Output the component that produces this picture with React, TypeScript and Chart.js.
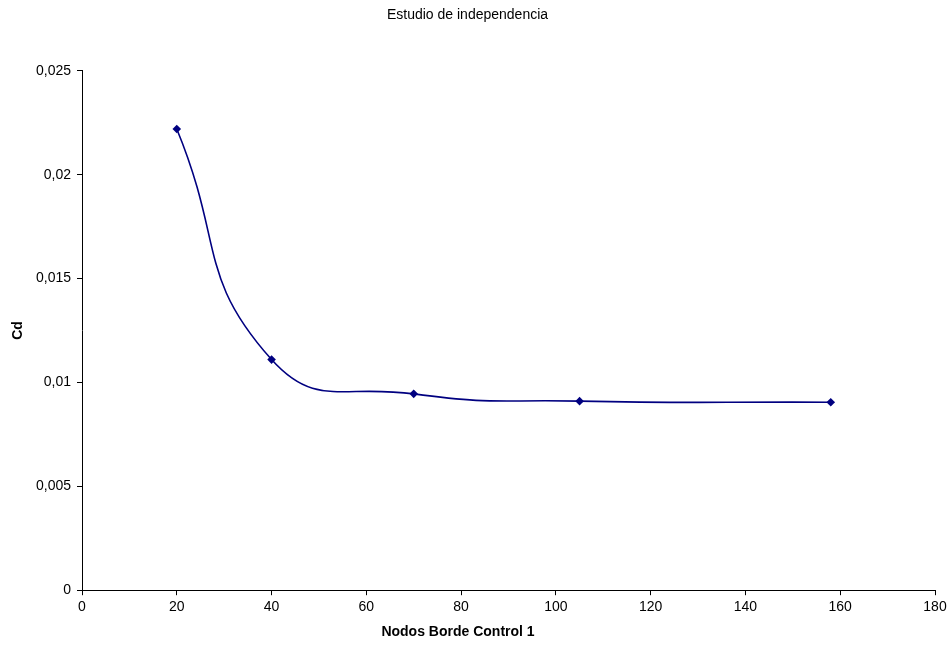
import React, { useEffect, useRef } from "react";
import { Chart, registerables } from "chart.js";

Chart.register(...registerables);

const nodos = [20, 40, 70, 105, 158];
const cd = [0.0222, 0.0111, 0.00945, 0.0091, 0.00905];
const chartTitle = "Estudio de independencia";
const xTitle = "Nodos Borde Control 1";
const yTitle = "Cd";

const FONT = "'Liberation Sans', Arial, sans-serif";

const xTitlePlugin = {
  id: "xTitleOffset",
  afterDraw(chart: any) {
    const c = chart.ctx;
    c.save();
    c.font = `bold 14px ${FONT}`;
    c.fillStyle = "#000";
    c.textAlign = "center";
    c.textBaseline = "middle";
    c.fillText(xTitle, chart.width / 2 - 18, chart.height - 14);
    c.restore();
  },
};

export default function App() {
  const ref = useRef<HTMLCanvasElement>(null);
  useEffect(() => {
    document.body.style.margin = "0";
    const ctx = ref.current!.getContext("2d")!;
    const chart = new Chart(ctx, {
      type: "line",
      data: {
        datasets: [
          {
            data: nodos.map((x, i) => ({ x, y: cd[i] })),
            borderColor: "#000080",
            backgroundColor: "#000080",
            borderWidth: 1.6,
            pointStyle: "rectRot",
            pointRadius: 4.3,
            pointBorderWidth: 0,
            tension: 0.5,
            fill: false,
          },
        ],
      },
      plugins: [xTitlePlugin],
      options: {
        animation: false,
        responsive: false,
        maintainAspectRatio: false,
        layout: { padding: { top: 0, right: 17, bottom: 26, left: 0 } },
        plugins: {
          legend: { display: false },
          tooltip: { enabled: false },
          title: {
            display: true,
            text: chartTitle,
            color: "#000",
            font: { family: FONT, size: 14, weight: "normal" },
            padding: { top: 7, bottom: 47 },
          },
        },
        scales: {
          x: {
            type: "linear",
            min: 0,
            max: 180,
            ticks: { stepSize: 20, color: "#000", font: { family: FONT, size: 14 }, padding: 4, maxRotation: 0 },
            grid: { display: true, drawOnChartArea: false, drawTicks: true, tickLength: 5, color: "#000" },
            border: { display: true, color: "#000", width: 1 },
            title: { display: false, text: xTitle },
          },
          y: {
            type: "linear",
            min: 0,
            max: 0.025,
            ticks: {
              stepSize: 0.005,
              color: "#000",
              font: { family: FONT, size: 14 },
              padding: 6,
              callback: (v: any) => String(Number(Number(v).toFixed(4))).replace(".", ","),
            },
            grid: { display: true, drawOnChartArea: false, drawTicks: true, tickLength: 5, color: "#000" },
            border: { display: true, color: "#000", width: 1 },
            title: { display: true, text: yTitle, color: "#000", font: { family: FONT, size: 14, weight: "bold" }, padding: { top: 10, bottom: 0 } },
            afterFit: (s: any) => { s.width = 82; },
          },
        },
      },
    });
    return () => chart.destroy();
  }, []);
  return <canvas ref={ref} width={952} height={646} style={{ display: "block" }} />;
}
